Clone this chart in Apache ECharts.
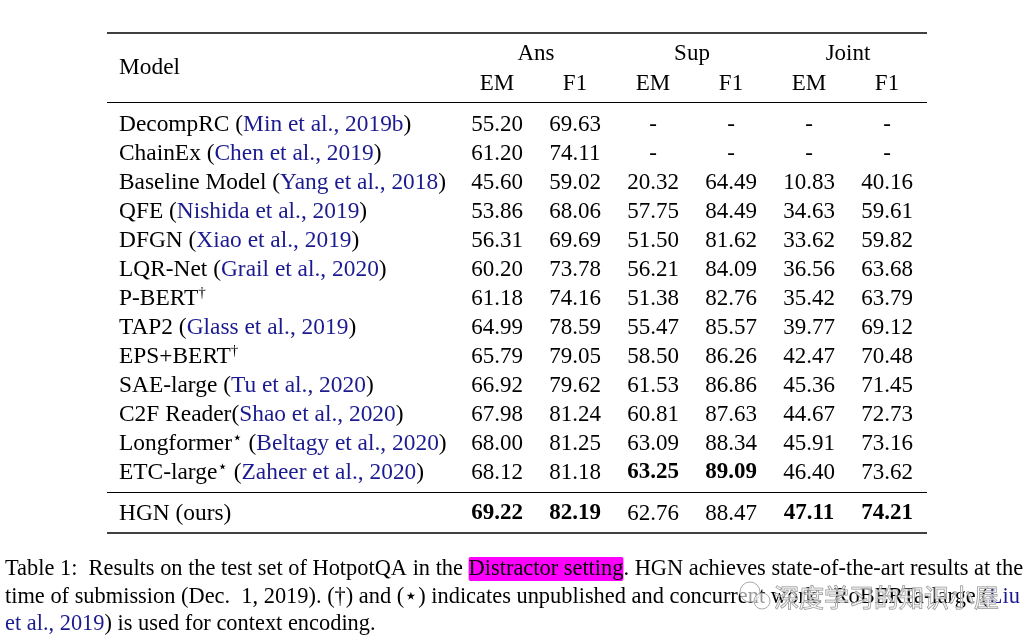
<!DOCTYPE html>
<html>
<head>
<meta charset="utf-8">
<script src="https://cdn.jsdelivr.net/npm/echarts@6/dist/echarts.min.js"></script>
<style>html,body{margin:0;padding:0;background:#fff}#c{width:1030px;height:641px}</style>
</head>
<body>
<div id="c"></div>
<script>
// ---- data ----
const groups = ['Ans', 'Sup', 'Joint'];
const metrics = ['EM', 'F1', 'EM', 'F1', 'EM', 'F1'];
const models = ['DecompRC', 'ChainEx', 'Baseline Model', 'QFE', 'DFGN', 'LQR-Net', 'P-BERT', 'TAP2', 'EPS+BERT', 'SAE-large', 'C2F Reader', 'Longformer', 'ETC-large'];
const marks = ['', '', '', '', '', '', '†', '', '†', '', '', '⋆', '⋆'];
const cites = ['Min et al., 2019b', 'Chen et al., 2019', 'Yang et al., 2018', 'Nishida et al., 2019', 'Xiao et al., 2019', 'Grail et al., 2020', '', 'Glass et al., 2019', '', 'Tu et al., 2020', 'Shao et al., 2020', 'Beltagy et al., 2020', 'Zaheer et al., 2020'];
const citeGap = [' ', ' ', ' ', ' ', ' ', ' ', '', ' ', '', ' ', '', ' ', ' '];
const ansEM   = [55.20, 61.20, 45.60, 53.86, 56.31, 60.20, 61.18, 64.99, 65.79, 66.92, 67.98, 68.00, 68.12];
const ansF1   = [69.63, 74.11, 59.02, 68.06, 69.69, 73.78, 74.16, 78.59, 79.05, 79.62, 81.24, 81.25, 81.18];
const supEM   = [null, null, 20.32, 57.75, 51.50, 56.21, 51.38, 55.47, 58.50, 61.53, 60.81, 63.09, 63.25];
const supF1   = [null, null, 64.49, 84.49, 81.62, 84.09, 82.76, 85.57, 86.26, 86.86, 87.63, 88.34, 89.09];
const jointEM = [null, null, 10.83, 34.63, 33.62, 36.56, 35.42, 39.77, 42.47, 45.36, 44.67, 45.91, 46.40];
const jointF1 = [null, null, 40.16, 59.61, 59.82, 63.68, 63.79, 69.12, 70.48, 71.45, 72.73, 73.16, 73.62];
const oursName = 'HGN (ours)';
const ours = [69.22, 82.19, 62.76, 88.47, 47.11, 74.21];

// ---- build ----
const cols = [ansEM, ansF1, supEM, supF1, jointEM, jointF1];
const colMax = cols.map((c, i) => Math.max(ours[i], ...c.filter(v => v != null)));
const FONT = '"Liberation Serif", "Times New Roman", serif';
const CITE = '#1b1b8f';
const TS = 23, NS = 23.4, CS = 22.4;

const cells = [];
cols.forEach((col, c) => col.forEach((v, r) => cells.push({ value: [c, r], v: v, bold: v != null && v === colMax[c] })));
const oursCells = ours.map((v, c) => ({ value: [c, 0], v: v, bold: v === colMax[c] }));

function cellLabel(p) {
  const d = p.data;
  if (d.v == null) return '-';
  const s = d.v.toFixed(2);
  return d.bold ? '{b|' + s + '}' : s;
}
function modelLabel(value, idx) {
  let s = models[idx];
  if (marks[idx]) s += (marks[idx] === '†' ? '{sup|' : '{star|') + marks[idx] + '}';
  if (cites[idx]) s += citeGap[idx] + '(' + '{c|' + cites[idx] + '})';
  return s;
}
const numLabel = {
  show: true, position: 'inside', formatter: cellLabel,
  fontFamily: FONT, fontSize: TS, color: '#000', textBorderWidth: 0, textBorderColor: 'transparent', opacity: 1,
  rich: { b: { fontFamily: FONT, fontSize: TS, fontWeight: 'bold', color: '#000', textBorderWidth: 0 } }
};
const yLabel = {
  fontFamily: FONT, fontSize: NS, color: '#000', align: 'left', margin: 339, interval: 0, hideOverlap: false,
  rich: {
    c: { fontFamily: FONT, fontSize: NS, color: CITE },
    sup: { fontFamily: FONT, fontSize: 15, color: '#000', verticalAlign: 'top', padding: [0, 0, 10, 0] },
    star: { fontFamily: '"DejaVu Sans"', fontSize: 17, color: '#000', verticalAlign: 'top', padding: [0, 0, 10, 0] }
  }
};
const GL = 458, GW = 468;
const hidden = { show: false };

const option = {
  animation: false,
  backgroundColor: '#fff',
  grid: [
    { left: GL, width: GW, top: 110, height: 377 },
    { left: GL, width: GW, top: 499, height: 29 },
    { left: GL, width: GW, top: 68, height: 1 }
  ],
  xAxis: [
    { type: 'category', gridIndex: 0, data: metrics, axisLine: hidden, axisTick: hidden, axisLabel: hidden, splitLine: hidden },
    { type: 'category', gridIndex: 1, data: metrics, axisLine: hidden, axisTick: hidden, axisLabel: hidden, splitLine: hidden },
    { type: 'category', gridIndex: 2, data: metrics, position: 'bottom', axisLine: hidden, axisTick: hidden,
      axisLabel: { fontFamily: FONT, fontSize: TS, color: '#000', margin: 3, interval: 0, hideOverlap: false } },
    { type: 'category', gridIndex: 2, data: groups, position: 'top', axisLine: hidden, axisTick: hidden,
      axisLabel: { fontFamily: FONT, fontSize: TS, color: '#000', margin: 3, interval: 0, hideOverlap: false } }
  ],
  yAxis: [
    { type: 'category', gridIndex: 0, data: models, inverse: true, axisLine: hidden, axisTick: hidden, splitLine: hidden,
      axisLabel: Object.assign({ formatter: modelLabel }, yLabel) },
    { type: 'category', gridIndex: 1, data: [oursName], inverse: true, axisLine: hidden, axisTick: hidden, splitLine: hidden,
      axisLabel: yLabel },
    { type: 'value', gridIndex: 2, show: false }
  ],
  series: [
    { type: 'scatter', xAxisIndex: 0, yAxisIndex: 0, symbolSize: 0, silent: true, itemStyle: { opacity: 1, color: '#000' },
      data: cells, label: numLabel, labelLayout: { hideOverlap: false } },
    { type: 'scatter', xAxisIndex: 1, yAxisIndex: 1, symbolSize: 0, silent: true, itemStyle: { opacity: 1, color: '#000' },
      data: oursCells, label: numLabel, labelLayout: { hideOverlap: false } }
  ],
  graphic: [
    { type: 'line', shape: { x1: 107, y1: 33, x2: 927, y2: 33 }, style: { stroke: '#000', lineWidth: 1.6 } },
    { type: 'line', shape: { x1: 107, y1: 102.5, x2: 927, y2: 102.5 }, style: { stroke: '#000', lineWidth: 1 } },
    { type: 'line', shape: { x1: 107, y1: 492.5, x2: 927, y2: 492.5 }, style: { stroke: '#000', lineWidth: 1 } },
    { type: 'line', shape: { x1: 107, y1: 533, x2: 927, y2: 533 }, style: { stroke: '#000', lineWidth: 1.6 } },
    { type: 'text', x: 119, y: 68, style: { text: 'Model', fontFamily: FONT, fontSize: NS, fill: '#000', verticalAlign: 'middle' } },
    { type: 'text', x: 5, y: 569, style: {
        text: 'Table 1:  Results on the test set of HotpotQA in the {hl|Distractor setting}. HGN achieves state-of-the-art results at the',
        fontFamily: FONT, fontSize: CS, fill: '#000', verticalAlign: 'middle',
        rich: { hl: { fontFamily: FONT, fontSize: CS, fill: '#000', backgroundColor: '#ff00ff', borderRadius: 2, padding: [1, 0, 1, 0] } } } },
    { type: 'text', x: 5, y: 597, style: {
        text: 'time of submission (Dec.  1, 2019). (†) and (⋆) indicates unpublished and concurrent work.  RoBERTa-large ({c|Liu}',
        fontFamily: FONT, fontSize: CS, fill: '#000', verticalAlign: 'middle',
        rich: { c: { fontFamily: FONT, fontSize: CS, fill: CITE } } } },
    { type: 'text', x: 5, y: 624, style: {
        text: '{c|et al., 2019}) is used for context encoding.',
        fontFamily: FONT, fontSize: CS, fill: '#000', verticalAlign: 'middle',
        rich: { c: { fontFamily: FONT, fontSize: CS, fill: CITE } } } },
    { type: 'circle', shape: { cx: 750, cy: 592, r: 10 }, style: { fill: 'rgba(255,255,255,0.6)', stroke: '#aaa', lineWidth: 1 } },
    { type: 'circle', shape: { cx: 762, cy: 601, r: 8 }, style: { fill: 'rgba(255,255,255,0.6)', stroke: '#aaa', lineWidth: 1 } },
    { type: 'text', x: 774, y: 597, style: {
        text: '深度学习的知识小屋', fontFamily: '"Noto Sans CJK SC"', fontSize: 25,
        fill: 'rgba(255,255,255,0.55)', stroke: '#8a8a8a', lineWidth: 1, verticalAlign: 'middle' } }
  ]
};
const chart = echarts.init(document.getElementById('c'), null, { renderer: 'canvas' });
chart.setOption(option);
</script>
</body>
</html>
